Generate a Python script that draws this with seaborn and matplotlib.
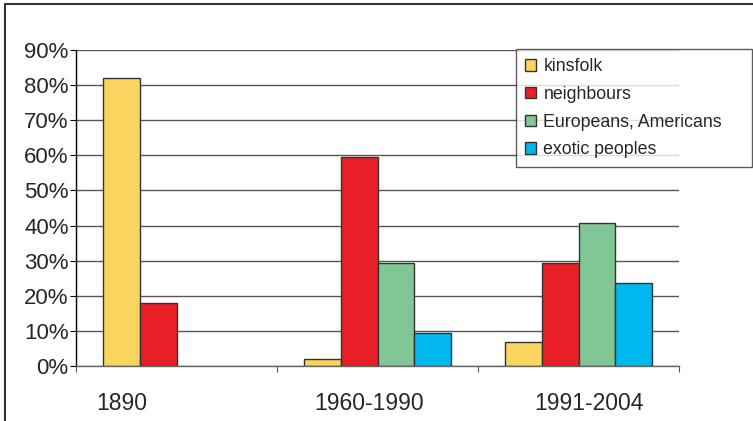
import matplotlib
matplotlib.use("Agg")
import matplotlib.pyplot as plt
from matplotlib.lines import Line2D
from matplotlib.ticker import FuncFormatter
import numpy as np
import pandas as pd
import seaborn as sns

# periods on the x axis
periods = ["1890", "1960-1990", "1991-2004"]
# share of each group of people, in percent (NaN = no bar)
kinsfolk = [82.0, 2.1, 6.9]
neighbours = [18.0, 59.6, 29.3]
europeans_americans = [np.nan, 29.4, 40.8]
exotic_peoples = [np.nan, 9.3, 23.7]
groups = ["kinsfolk", "neighbours", "Europeans, Americans", "exotic peoples"]
colors = ["#F9D45E", "#E81F26", "#81C795", "#00B7EE"]
y_ticks = [0, 10, 20, 30, 40, 50, 60, 70, 80, 90]

rows = []
for g, vals in zip(groups, [kinsfolk, neighbours, europeans_americans, exotic_peoples]):
    for p, v in zip(periods, vals):
        rows.append({"period": p, "group": g, "share": v})
df = pd.DataFrame(rows)

sns.set_style("white")
plt.rcParams["font.family"] = ["Liberation Sans", "DejaVu Sans"]

fig = plt.figure(figsize=(7.53, 4.21), dpi=100)
ax = fig.add_axes([76 / 753, 55 / 421, 603 / 753, 316 / 421])

sns.barplot(data=df, x="period", y="share", hue="group", order=periods,
            hue_order=groups, palette=colors, width=0.736, dodge=True,
            edgecolor="#333333", linewidth=1.0, saturation=1, ax=ax,
            legend=True, errorbar=None)

ax.set_xlim(-0.5, 2.5)
ax.set_ylim(0, 90)
ax.set_xlabel("")
ax.set_ylabel("")

# horizontal gridlines
ax.set_yticks(y_ticks)
ax.yaxis.set_major_formatter(FuncFormatter(lambda v, _: f"{int(v)}%"))
ax.grid(axis="y", color="#555555", linewidth=1.0)
ax.set_axisbelow(True)
ax.tick_params(axis="y", which="major", direction="out", length=4.3, width=0.8,
               color="#000000", labelsize=16, pad=1, left=True)

# category boundaries as ticks, labels as minor ticks
ax.set_xticks([-0.5, 0.5, 1.5, 2.5])
ax.set_xticklabels([])
label_offsets = [-0.27, -0.04, 0.05]
ax.set_xticks([i + o for i, o in enumerate(label_offsets)], minor=True)
ax.set_xticklabels(periods, minor=True)
ax.tick_params(axis="x", which="major", direction="out", length=4.3, width=0.8,
               color="#555555", bottom=True)
ax.tick_params(axis="x", which="minor", length=0, labelsize=16.5, pad=19)

for side in ["top", "right"]:
    ax.spines[side].set_visible(False)
ax.spines["left"].set_color("#000000")
ax.spines["left"].set_linewidth(1.0)
ax.spines["bottom"].set_color("#666666")
ax.spines["bottom"].set_linewidth(1.0)

# legend box in the upper right
handles, labels = ax.get_legend_handles_labels()
ax.legend_.remove()
leg_top = 1 - 49 / 421
leg = fig.legend(handles, labels, loc="upper left",
                 bbox_to_anchor=(516 / 753, leg_top - 0.01, 236 / 753, 0.01),
                 mode="expand", borderaxespad=0, fontsize=12.8,
                 handlelength=0.6, handleheight=0.6, handletextpad=0.42,
                 labelspacing=0.6, borderpad=0.52, fancybox=False,
                 frameon=True)
leg.get_frame().set_edgecolor("#333333")
leg.get_frame().set_linewidth(1.0)
for h in leg.legend_handles:
    h.set_edgecolor("#333333")
    h.set_linewidth(1.0)

# outer frame (left and top edges)
fig.add_artist(Line2D([5 / 753, 5 / 753], [-0.1, 1 - 4 / 421], transform=fig.transFigure,
                      color="#333333", linewidth=1.5))
fig.add_artist(Line2D([5 / 753, 1.1], [1 - 4 / 421, 1 - 4 / 421], transform=fig.transFigure,
                      color="#333333", linewidth=1.5))

fig.savefig("out.png", dpi=100)
